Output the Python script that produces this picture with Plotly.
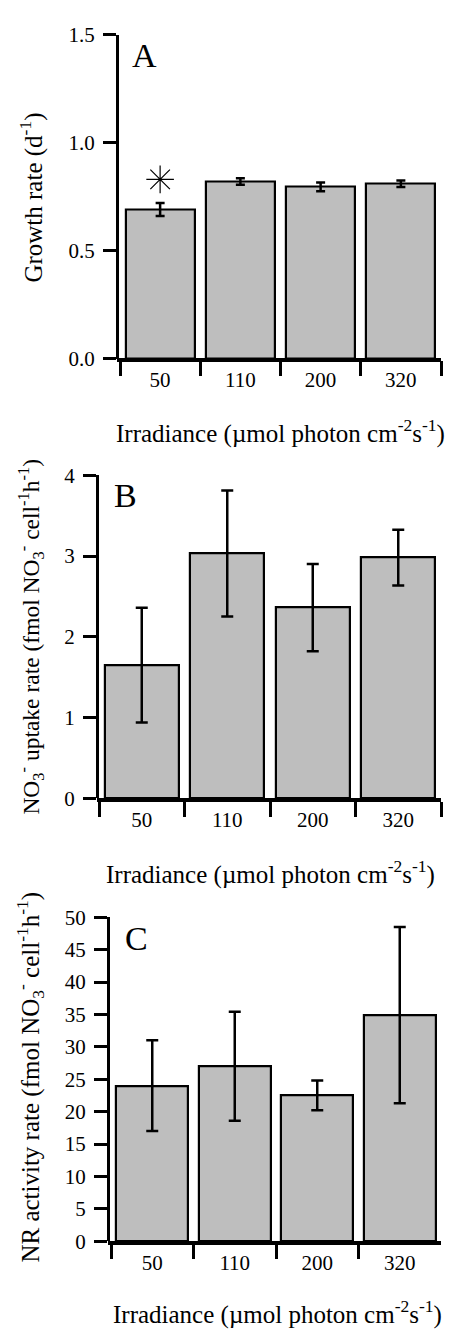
import plotly.graph_objects as go

categories = ["50", "110", "200", "320"]

growth = [0.69, 0.82, 0.795, 0.81]
growth_err = [0.03, 0.015, 0.02, 0.015]
star_y = [0.83]

uptake = [1.65, 3.03, 2.36, 2.98]
uptake_err = [0.71, 0.78, 0.54, 0.345]

nr = [24.0, 27.0, 22.5, 34.9]
nr_err = [7.0, 8.4, 2.3, 13.6]

W, H = 451, 1341
FONT = "Liberation Serif"
GREY = "#bebebe"


def px(x):
    return x / W


def py(y):
    return 1 - y / H


fig = go.Figure()

panels = [
    (growth, growth_err, [0, 1.5], 0.5, 23, 353, 117, (120, 441), 354, 4.5, 0.86, ".1f"),
    (uptake, uptake_err, [0, 4], 1, 471.7, 800.7, 97, (99, 441), 802.5, 6, 0.865, "d"),
    (nr, nr_err, [0, 50], 5, 921.7, 1251.7, 108, (111, 441), 1253, 6, 0.87, "d"),
]

for i, (vals, errs, yr, dt, ytop, ybot, yax, xdom, xay, capw, bw, fmt) in enumerate(panels):
    n = "" if i == 0 else str(i + 1)
    per_cat = (xdom[1] - xdom[0]) / 4.0
    left_ext = (xdom[0] - yax) / per_cat
    fig.add_trace(go.Bar(
        x=categories, y=vals, width=bw,
        marker=dict(color=GREY, line=dict(color="black", width=2.2)),
        error_y=dict(type="data", array=errs, visible=True, color="black",
                     thickness=2.5, width=capw),
        xaxis="x" + n, yaxis="y" + n, showlegend=False,
    ))
    fig.layout["xaxis" + n] = dict(
        domain=[px(yax), px(xdom[1])], anchor="free", position=py(xay),
        type="category", range=[-0.5 - left_ext, 3.5], tickson="boundaries",
        ticks="outside", ticklen=15, tickwidth=2.5, tickcolor="black",
        showline=True, linecolor="black", linewidth=3.5, showgrid=False,
        zeroline=False, tickfont=dict(family=FONT, size=21, color="black"),
        fixedrange=True,
    )
    fig.layout["yaxis" + n] = dict(
        domain=[py(ybot), py(ytop)], anchor="free", position=px(yax),
        range=yr, dtick=dt, tick0=0, tickformat=fmt,
        ticks="outside", ticklen=13, tickwidth=2.5, tickcolor="black",
        showline=True, linecolor="black", linewidth=3, showgrid=False,
        zeroline=False, tickfont=dict(family=FONT, size=21, color="black"),
        ticklabelstandoff=4, fixedrange=True,
    )

fig.add_trace(go.Scatter(
    x=[categories[0]], y=star_y, mode="markers",
    marker=dict(symbol="asterisk-open", size=23, color="black",
                line=dict(color="black", width=1.2)),
    xaxis="x", yaxis="y", showlegend=False,
))

annotations = []
letters = [("A", 144, 44), ("B", 125, 492), ("C", 136, 943)]
for t, x, y in letters:
    annotations.append(dict(text=t, x=px(x), y=py(y), xref="paper", yref="paper",
                            showarrow=False, xanchor="center", yanchor="middle",
                            font=dict(family=FONT, size=34, color="black")))

xtitle = "Irradiance (µmol photon cm<sup>-2</sup>s<sup>-1</sup>)"
for x, y in [(280, 427), (270, 876), (277, 1324)]:
    annotations.append(dict(text=xtitle, x=px(x), y=py(y), xref="paper", yref="paper",
                            showarrow=False, xanchor="center", yanchor="middle",
                            font=dict(family=FONT, size=25, color="black")))

ytitles = [
    ("Growth rate (d<sup>-1</sup>)", 32, 189, 25),
    ("NO<sub>3</sub><sup>-</sup> uptake rate (fmol NO<sub>3</sub><sup>-</sup> cell<sup>-1</sup>h<sup>-1</sup>)", 31, 636, 23.5),
    ("NR activity rate (fmol NO<sub>3</sub><sup>-</sup> cell<sup>-1</sup>h<sup>-1</sup>)", 30, 1085, 25),
]
for t, x, y, s in ytitles:
    annotations.append(dict(text=t, x=px(x), y=py(y), xref="paper", yref="paper",
                            showarrow=False, xanchor="center", yanchor="middle",
                            textangle=-90,
                            font=dict(family=FONT, size=s, color="black")))

fig.update_layout(
    width=W, height=H, margin=dict(l=0, r=0, t=0, b=0),
    paper_bgcolor="white", plot_bgcolor="white",
    annotations=annotations, bargap=0,
    font=dict(family=FONT, color="black"),
)

fig.write_html("out.html", config={"displayModeBar": False})
